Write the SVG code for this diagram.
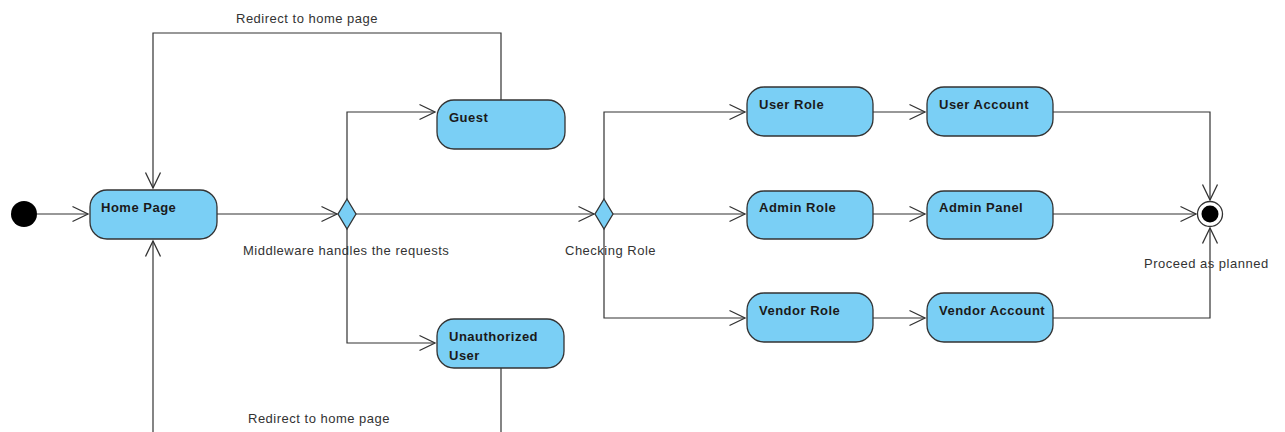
<svg xmlns="http://www.w3.org/2000/svg" width="1285" height="432" viewBox="0 0 1285 432">
  <style>
    .act { fill: #7acff5; stroke: #333333; stroke-width: 1.3; }
    .name { font-family: "Liberation Sans", Arial, sans-serif; font-size: 13px; font-weight: bold; fill: #1a1a1a; letter-spacing: 0.5px; }
    .lbl { font-family: "Liberation Sans", Arial, sans-serif; font-size: 13px; fill: #333333; letter-spacing: 0.5px; }
    .flow { fill: none; stroke: #333333; stroke-width: 1.2; }
  </style>
  <defs>
    <marker id="open" markerUnits="userSpaceOnUse" viewBox="-18 -9 20 18" refX="0" refY="0" markerWidth="20" markerHeight="18" orient="auto">
      <path d="M-15.5,-7.5 L0,0 L-15.5,7.5" fill="none" stroke="#333333" stroke-width="1.3"/>
    </marker>
  </defs>

  <!-- flows -->
  <g id="connectors">
    <path class="flow" d="M37,214 H88" marker-end="url(#open)"/>
    <path class="flow" d="M217,214 H337" marker-end="url(#open)"/>
    <path class="flow" d="M347,199 V112 H435" marker-end="url(#open)"/>
    <path class="flow" d="M347,229 V343 H435" marker-end="url(#open)"/>
    <path class="flow" d="M501,100 V33 H153 V188" marker-end="url(#open)"/>
    <path class="flow" d="M501,368 V432"/>
    <path class="flow" d="M153,432 V241" marker-end="url(#open)"/>
    <path class="flow" d="M356,214 H594" marker-end="url(#open)"/>
    <path class="flow" d="M604,199 V112 H745" marker-end="url(#open)"/>
    <path class="flow" d="M613,214 H745" marker-end="url(#open)"/>
    <path class="flow" d="M604,229 V318 H745" marker-end="url(#open)"/>
    <path class="flow" d="M873,112 H925" marker-end="url(#open)"/>
    <path class="flow" d="M873,214 H925" marker-end="url(#open)"/>
    <path class="flow" d="M873,318 H925" marker-end="url(#open)"/>
    <path class="flow" d="M1053,112 H1210 V200" marker-end="url(#open)"/>
    <path class="flow" d="M1053,214 H1196" marker-end="url(#open)"/>
    <path class="flow" d="M1053,318 H1210 V228" marker-end="url(#open)"/>
    <text class="lbl" x="236" y="23">Redirect to home page</text>
    <text class="lbl" x="248" y="423">Redirect to home page</text>
    <text class="lbl" x="243" y="255">Middleware handles the requests</text>
    <text class="lbl" x="565" y="255">Checking Role</text>
    <text class="lbl" x="1144" y="268">Proceed as planned</text>
  </g>

  <g id="start">
    <circle cx="24" cy="214" r="13" fill="#000000"/>
  </g>

  <g id="home-page">
    <rect class="act" x="90" y="190" width="127" height="49" rx="17"/>
    <text class="name" x="101" y="212">Home Page</text>
  </g>

  <g id="middleware">
    <polygon class="act" points="347,199 356,214 347,229 338,214"/>
  </g>

  <g id="guest">
    <rect class="act" x="437" y="100" width="128" height="49" rx="17"/>
    <text class="name" x="449" y="122">Guest</text>
  </g>

  <g id="unauthorized-user">
    <rect class="act" x="437" y="319" width="127" height="49" rx="17"/>
    <text class="name" x="449" y="341">Unauthorized</text>
    <text class="name" x="449" y="360">User</text>
  </g>

  <g id="checking-role">
    <polygon class="act" points="604,199 613,214 604,229 595,214"/>
  </g>

  <g id="user-role">
    <rect class="act" x="747" y="87" width="126" height="49" rx="17"/>
    <text class="name" x="759" y="109">User Role</text>
  </g>

  <g id="admin-role">
    <rect class="act" x="747" y="191" width="126" height="48" rx="17"/>
    <text class="name" x="759" y="212">Admin Role</text>
  </g>

  <g id="vendor-role">
    <rect class="act" x="747" y="293" width="126" height="49" rx="17"/>
    <text class="name" x="759" y="315">Vendor Role</text>
  </g>

  <g id="user-account">
    <rect class="act" x="927" y="87" width="126" height="49" rx="17"/>
    <text class="name" x="939" y="109">User Account</text>
  </g>

  <g id="admin-panel">
    <rect class="act" x="927" y="191" width="126" height="48" rx="17"/>
    <text class="name" x="939" y="212">Admin Panel</text>
  </g>

  <g id="vendor-account">
    <rect class="act" x="927" y="293" width="126" height="49" rx="17"/>
    <text class="name" x="939" y="315">Vendor Account</text>
  </g>

  <g id="end">
    <circle cx="1210" cy="214" r="12.5" fill="#ffffff" stroke="#333333" stroke-width="1.3"/>
    <circle cx="1210" cy="214" r="8.5" fill="#000000"/>
  </g>
</svg>
